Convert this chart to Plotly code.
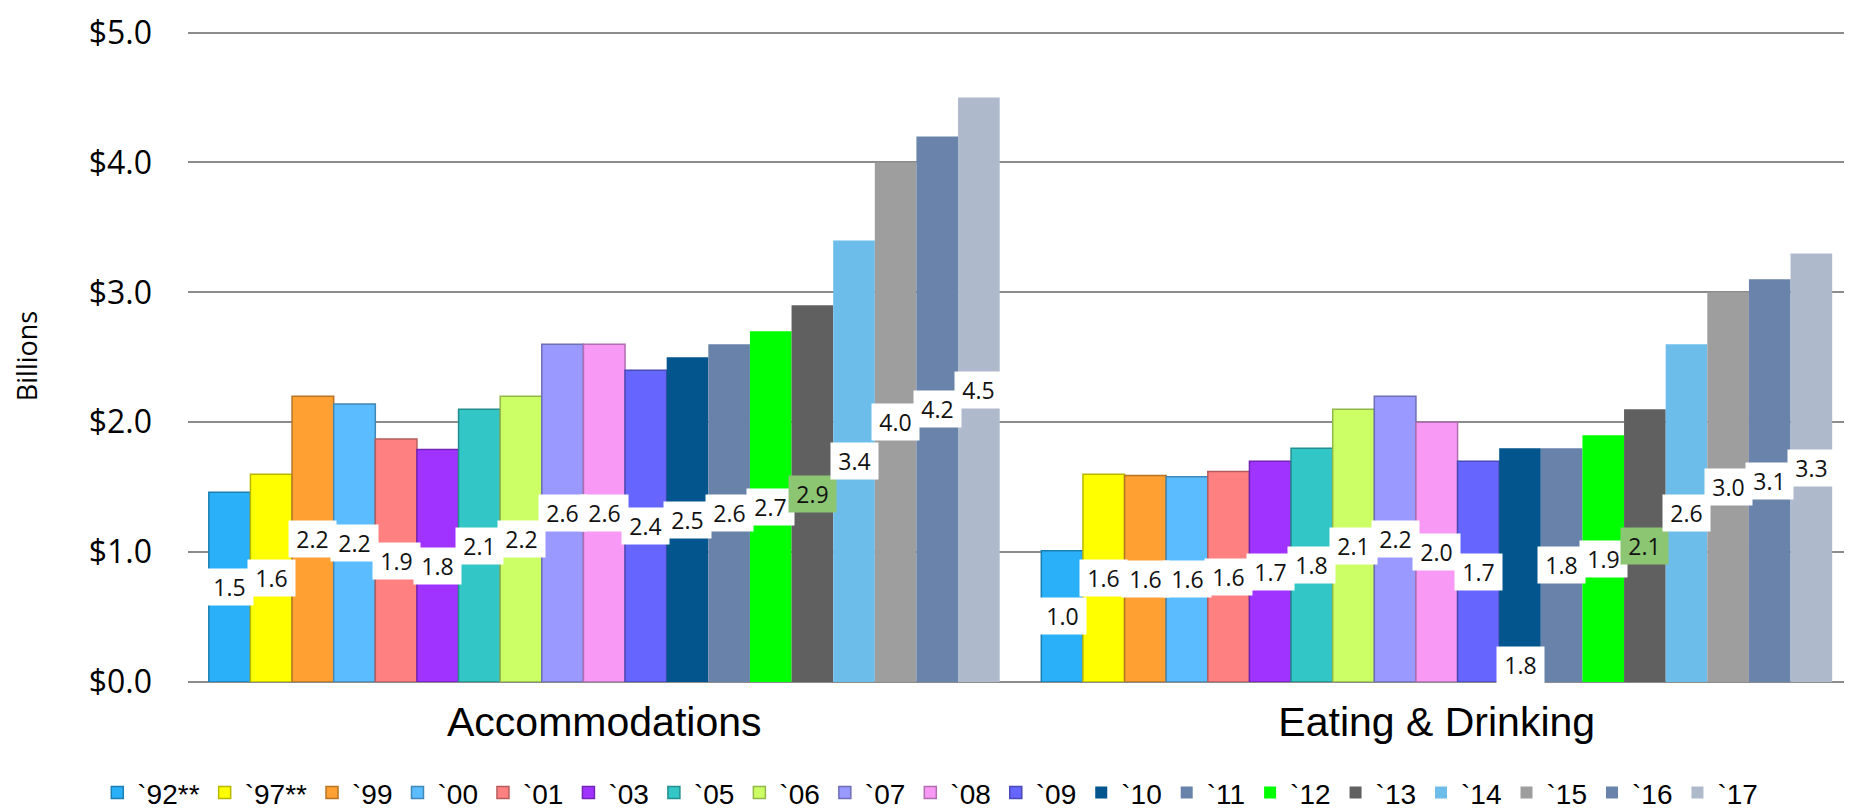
import plotly.graph_objects as go

categories = ["Accommodations", "Eating & Drinking"]
years = ["`92**", "`97**", "`99", "`00", "`01", "`03", "`05", "`06", "`07", "`08",
         "`09", "`10", "`11", "`12", "`13", "`14", "`15", "`16", "`17"]

acc_values = [1.46, 1.60, 2.20, 2.14, 1.87, 1.79, 2.10, 2.20, 2.60, 2.60,
              2.40, 2.50, 2.60, 2.70, 2.90, 3.40, 4.00, 4.20, 4.50]
eat_values = [1.01, 1.60, 1.59, 1.58, 1.62, 1.70, 1.80, 2.10, 2.20, 2.00,
              1.70, 1.80, 1.80, 1.90, 2.10, 2.60, 3.00, 3.10, 3.30]
acc_labels = ["1.5", "1.6", "2.2", "2.2", "1.9", "1.8", "2.1", "2.2", "2.6", "2.6",
              "2.4", "2.5", "2.6", "2.7", "2.9", "3.4", "4.0", "4.2", "4.5"]
eat_labels = ["1.0", "1.6", "1.6", "1.6", "1.6", "1.7", "1.8", "2.1", "2.2", "2.0",
              "1.7", "1.8", "1.8", "1.9", "2.1", "2.6", "3.0", "3.1", "3.3"]

colors = ["#29B0F8", "#FFFF00", "#FFA033", "#5BBDFF", "#FF8080", "#A033FF", "#33C6C6",
          "#CCFF66", "#9999FF", "#F799F5", "#6666FF", "#02558D", "#6882A9", "#00FF00",
          "#606060", "#6DBDEA", "#9E9E9E", "#6983AB", "#AFB9CC"]
beveled = [True] * 11 + [False] * 8

y_ticks = [0, 1, 2, 3, 4, 5]
y_ticktext = ["$0.0", "$1.0", "$2.0", "$3.0", "$4.0", "$5.0"]


def darker(hexc, f=0.72):
    h = hexc.lstrip("#")
    r, g, b = (int(h[i:i + 2], 16) for i in (0, 2, 4))
    return "rgb(%d,%d,%d)" % (r * f, g * f, b * f)


W, H = 1852, 810
ML, MR, MT, MB = 180, 7, 22, 136
BARGAP = 0.05

fig = go.Figure()
for i, yr in enumerate(years):
    fig.add_trace(go.Bar(
        name=yr,
        x=categories,
        y=[acc_values[i], eat_values[i]],
        marker=dict(
            color=colors[i],
            line=dict(color=darker(colors[i]) if beveled[i] else colors[i],
                      width=1.5 if beveled[i] else 0),
        ),
        hoverinfo="skip",
    ))

# data labels in white boxes at mid-height of each bar
plot_w = W - ML - MR
bar_px = plot_w / len(categories) * (1 - BARGAP) / len(years)
n = len(years)
special_bg = {"`13": "#8CC673"}
low_labels = {("Eating & Drinking", "`10"): 0.13}
annotations = []
for cat, vals, labs in [(categories[0], acc_values, acc_labels),
                        (categories[1], eat_values, eat_labels)]:
    for i, yr in enumerate(years):
        ypos = low_labels.get((cat, yr), vals[i] / 2)
        annotations.append(dict(
            x=cat, y=ypos, xref="x", yref="y",
            xshift=(i - (n - 1) / 2) * bar_px,
            text=labs[i], showarrow=False,
            font=dict(family="Open Sans", size=23, color="#111111"),
            bgcolor=special_bg.get(yr, "white"),
            width=41, height=30, borderpad=3,
        ))

fig.update_layout(
    width=W, height=H,
    margin=dict(l=ML, r=MR, t=MT, b=MB, autoexpand=False),
    paper_bgcolor="white", plot_bgcolor="white",
    barmode="group", bargap=BARGAP, bargroupgap=0,
    annotations=annotations,
    showlegend=True,
    legend=dict(
        orientation="h", xref="container", x=0.498, xanchor="center",
        yref="container", y=0.031, yanchor="middle",
        font=dict(family="Liberation Sans, Arial", size=28, color="black"),
        itemwidth=30, traceorder="normal",
    ),
    xaxis=dict(
        showgrid=False, showline=False, ticks="",
        tickfont=dict(family="Liberation Sans, Arial", size=41, color="black"),
        ticklabelstandoff=12,
    ),
    yaxis=dict(
        range=[0, 5.02], tickvals=y_ticks, ticktext=y_ticktext,
        showgrid=True, gridcolor="#8C8C8C", gridwidth=2,
        zeroline=True, zerolinecolor="#8C8C8C", zerolinewidth=2,
        showline=False, ticks="",
        tickfont=dict(family="Open Sans", size=32, color="black"),
        ticklabelstandoff=35,
        title=dict(text="Billions", font=dict(family="Open Sans", size=27, color="black"),
                   standoff=44),
    ),
)

fig.write_html("out.html")
